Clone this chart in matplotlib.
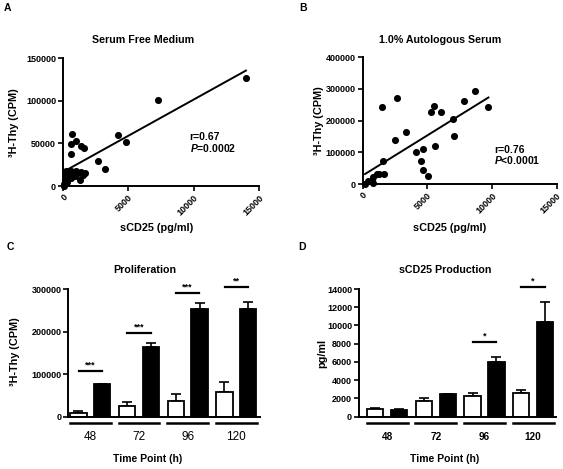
import matplotlib
matplotlib.use("Agg")
import matplotlib.pyplot as plt
import matplotlib.transforms as mtransforms
import numpy as np

plt.rcParams['font.family'] = ['Liberation Sans', 'DejaVu Sans']
plt.rcParams['font.weight'] = 'bold'
plt.rcParams['mathtext.fontset'] = 'custom'
plt.rcParams['mathtext.it'] = 'Liberation Sans:italic:bold'
plt.rcParams['mathtext.rm'] = 'Liberation Sans:bold'

# A: serum free medium (sCD25 pg/ml vs 3H-Thy CPM)
sf_x = [14000, 7300, 4200, 4800, 2700, 3200, 700, 600, 1000, 600, 1400, 1600,
        100, 150, 200, 250, 50, 300, 400, 500, 650, 750, 900, 1000, 1150, 1300,
        1400, 1550, 1700, 200, 600]
sf_y = [127000, 101000, 60000, 52000, 29000, 20000, 61000, 49000, 53000, 37000,
        47000, 44000, 2000, 8000, 13000, 16000, 500, 5000, 11000, 15000, 9000,
        14000, 12000, 17000, 15000, 7000, 16000, 13000, 15000, 18000, 18000]
sf_fit = (8.49, 16400)   # slope, intercept

# B: 1.0% autologous serum
as_x = [1470, 2680, 2530, 3350, 1550, 1240, 1650, 775, 720, 4130, 4700, 4515,
        4700, 5080, 5315, 5520, 6040, 5600, 6970, 7040, 7840, 8670, 9730,
        180, 430, 820, 1130]
as_y = [242600, 270000, 138200, 163500, 73900, 32700, 32700, 21100, 8400,
        102300, 109700, 72800, 45400, 26400, 225800, 246900, 227900, 120300,
        205700, 151900, 260600, 292200, 243700, 1000, 10400, 4100, 31600]
as_fit = (25.3, 26900)

# C / D: time course
time_points = ['48', '72', '96', '120']
prolif_open = [8000, 26000, 37500, 59000]
prolif_open_err = [4500, 9000, 15000, 23500]
prolif_fill = [76000, 165000, 253500, 253500]
prolif_fill_err = [1000, 8000, 13500, 17500]
prolif_sig_y = [107500, 198000, 290500, 306000]
prolif_sig = ['***', '***', '***', '**']

scd25_open = [850, 1750, 2250, 2620]
scd25_open_err = [120, 330, 380, 330]
scd25_fill = [780, 2440, 5950, 10420]
scd25_fill_err = [40, 40, 620, 2200]
scd25_sig_y = [None, None, 8230, 14250]
scd25_sig = [None, None, '*', '*']

W, H = 563, 469
fig = plt.figure(figsize=(W / 100, H / 100), dpi=100)


def rect(x0, y0, x1, y1):
    return [x0 / W, 1 - y1 / H, (x1 - x0) / W, (y1 - y0) / H]


def ftext(x, y, s, **kw):
    fig.text(x / W, 1 - y / H, s, ha=kw.pop('ha', 'center'),
             va=kw.pop('va', 'center'), **kw)


def style(ax):
    for s in ['top', 'right']:
        ax.spines[s].set_visible(False)
    for s in ['left', 'bottom']:
        ax.spines[s].set_linewidth(1.4)
    ax.tick_params(width=1.2, length=3.5, labelsize=6.5, pad=1.5)
    for lab in ax.get_xticklabels() + ax.get_yticklabels():
        lab.set_fontweight('bold')


def scatter_panel(ax, x, y, fit, ymax, yticks):
    ax.scatter(x, y, s=26, color='black', clip_on=False, zorder=3, linewidths=0)
    xs = np.array([min(x), max(x)])
    ax.plot(xs, fit[0] * xs + fit[1], color='black', lw=1.4)
    ax.set_xlim(0, 15000)
    ax.set_ylim(0, ymax)
    ax.set_xticks([0, 5000, 10000, 15000])
    ax.set_yticks(yticks)
    style(ax)
    for lab in ax.get_xticklabels():
        lab.set_rotation(45)
        lab.set_ha('right')
        lab.set_va('top')
        lab.set_rotation_mode('anchor')


axA = fig.add_axes(rect(63, 58, 259, 186))
scatter_panel(axA, sf_x, sf_y, sf_fit, 150000, [0, 50000, 100000, 150000])
axA.text(9700, 57500, 'r=0.67', fontsize=7.5, va='center')
axA.text(9700, 45000, r'$\mathit{P}$=0.0002', fontsize=7.5, va='center')

axB = fig.add_axes(rect(362.7, 57.3, 556.5, 184))
scatter_panel(axB, as_x, as_y, as_fit, 400000, [0, 100000, 200000, 300000, 400000])
axB.text(10200, 108000, 'r=0.76', fontsize=7.5, va='center')
axB.text(10200, 75000, r'$\mathit{P}$<0.0001', fontsize=7.5, va='center')


def bar_panel(ax, opn, opn_err, fil, fil_err, sig_y, sig, ymax, yticks, xlim,
              group_bold, group_fs):
    pos = np.arange(len(time_points))
    off, w = 0.245, 0.335
    ax.bar(pos - off, opn, w, color='white', edgecolor='black', lw=1.3, zorder=2)
    ax.bar(pos + off, fil, w, color='black', edgecolor='black', lw=1.3, zorder=2)
    ax.errorbar(pos - off, opn, yerr=[np.zeros(len(opn)), opn_err], fmt='none',
                ecolor='black', elinewidth=1.2, capsize=3.5, capthick=1.2, zorder=1)
    ax.errorbar(pos + off, fil, yerr=[np.zeros(len(fil)), fil_err], fmt='none',
                ecolor='black', elinewidth=1.2, capsize=3.5, capthick=1.2, zorder=1)
    ax.set_xlim(*xlim)
    ax.set_ylim(0, ymax)
    ax.set_yticks(yticks)
    ax.set_xticks([])
    style(ax)
    trans = mtransforms.blended_transform_factory(ax.transData, ax.transAxes)
    for i, lab in enumerate(time_points):
        ax.plot([i - 0.42, i + 0.42], [-0.052, -0.052], color='black', lw=1.8,
                transform=trans, clip_on=False)
        ax.text(i, -0.16, lab, transform=trans, ha='center', va='center',
                fontsize=group_fs, fontweight='bold' if group_bold else 'normal')
        if sig[i] is not None:
            ax.plot([i - 0.24, i + 0.24], [sig_y[i], sig_y[i]], color='black',
                    lw=1.6, clip_on=False)
            ax.text(i, sig_y[i] + ymax * 0.012, sig[i], ha='center', va='bottom',
                    fontsize=6.5, clip_on=False)


axC = fig.add_axes(rect(68.3, 289.3, 260, 416.7))
bar_panel(axC, prolif_open, prolif_open_err, prolif_fill, prolif_fill_err,
          prolif_sig_y, prolif_sig, 300000, [0, 100000, 200000, 300000],
          (-0.452, 3.486), False, 8.5)

axD = fig.add_axes(rect(359, 289, 556, 416.7))
bar_panel(axD, scd25_open, scd25_open_err, scd25_fill, scd25_fill_err,
          scd25_sig_y, scd25_sig, 14000, list(range(0, 14001, 2000)),
          (-0.58, 3.47), True, 7.2)

# titles, axis labels, panel letters
ftext(143, 40, 'Serum Free Medium', fontsize=7.7)
ftext(440, 40, '1.0% Autologous Serum', fontsize=7.7)
ftext(145, 270, 'Proliferation', fontsize=7.7)
ftext(445, 270, 'sCD25 Production', fontsize=7.7)

ftext(157, 228, 'sCD25 (pg/ml)', fontsize=7.8)
ftext(450, 228, 'sCD25 (pg/ml)', fontsize=7.8)
ftext(148, 459, 'Time Point (h)', fontsize=7.5)
ftext(445, 459, 'Time Point (h)', fontsize=7.5)

ftext(14, 123, '³H-Thy (CPM)', fontsize=7.8, rotation=90)
ftext(319, 121, '³H-Thy (CPM)', fontsize=7.8, rotation=90)
ftext(15, 352, '³H-Thy (CPM)', fontsize=7.8, rotation=90)
ftext(322, 353, 'pg/ml', fontsize=7.8, rotation=90)

ftext(7, 8, 'A', fontsize=7.5)
ftext(303, 8, 'B', fontsize=7.5)
ftext(10, 247, 'C', fontsize=7.5)
ftext(302, 247, 'D', fontsize=7.5)

fig.savefig('out.png', dpi=100)
